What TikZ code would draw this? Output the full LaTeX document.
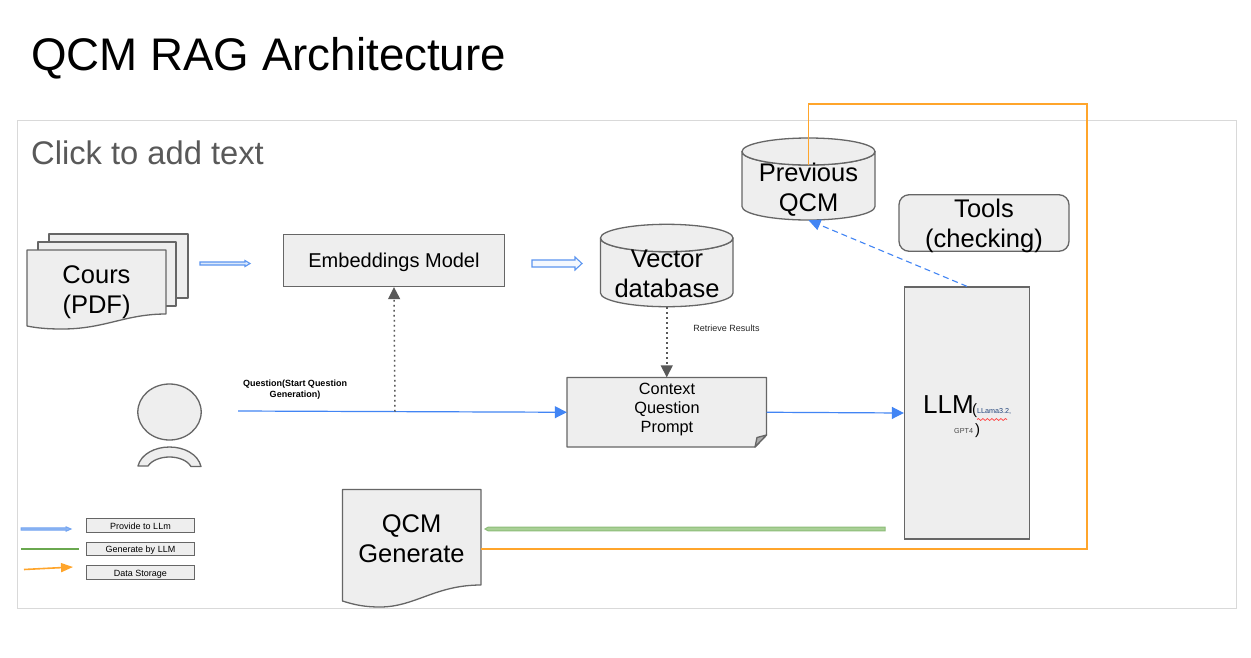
\documentclass[tikz,border=0pt]{standalone}
\usepackage{fontspec}
\setmainfont{Liberation Sans}
\usetikzlibrary{arrows.meta,decorations.pathmorphing}
\definecolor{shapefill}{HTML}{EEEEEE}
\definecolor{shapeline}{HTML}{666666}
\definecolor{frameline}{HTML}{D9D9D9}
\definecolor{flowblue}{HTML}{4285F4}
\definecolor{dblblue}{HTML}{5B95F0}
\definecolor{paleblue}{HTML}{DCE9FB}
\definecolor{legblue}{HTML}{8FB7F2}
\definecolor{dblgreen}{HTML}{6AA84F}
\definecolor{edgegreen}{HTML}{8DBD78}
\definecolor{lightgreen}{HTML}{A9D096}
\definecolor{storeorange}{HTML}{FFA52B}
\definecolor{grayarrow}{HTML}{595959}
\definecolor{hinttext}{HTML}{595959}
\newcommand{\fsz}[1]{\fontsize{#1}{#1}\selectfont}
\tikzset{
  shapepath/.style={draw=shapeline,fill=shapefill,line width=1.3pt,line join=round},
  bigtext/.style={align=center,inner sep=0pt,font=\fontsize{25.5}{30}\selectfont},
  boxnode/.style={draw=shapeline,fill=shapefill,line width=1.3pt,inner sep=0pt},
  legendbox/.style={boxnode,minimum width=108pt,minimum height=13.5pt,text height=8pt,text depth=1pt,font=\fsz{9}},
  flow/.style={draw=flowblue,line width=1.2pt,-{Triangle[length=12pt,width=12pt]}},
  hollow/.style={draw=dblblue,line width=1.1pt,fill=paleblue,line join=miter},
  dots/.style={draw=grayarrow,line width=1.5pt,dash pattern=on 1.6pt off 3.4pt,-{Triangle[length=12pt,width=12pt,sep=0pt]}},
  store/.style={draw=storeorange,line width=1.6pt},
}
\begin{document}
\begin{tikzpicture}[x=1pt,y=-1pt]
\useasboundingbox (0,0) rectangle (1251,657);
\fill[white] (0,0) rectangle (1251,657);
% frame
\node[draw=frameline,line width=1pt,minimum width=1219pt,minimum height=488pt,inner sep=0pt] (frame) at (627,364) {};
\node[anchor=base west,inner sep=0pt,font=\fsz{45.7}] (title) at (31,70) {QCM RAG Architecture};
\node[anchor=base west,inner sep=0pt,text=hinttext,font=\fsz{32.7}] (hint) at (31,164) {Click to add text};

% stacked documents
\draw[shapepath] (49,234) rectangle (188,298);
\draw[shapepath] (38,242) rectangle (176,306);
\draw[shapepath] (27,250) -- (166,250) -- (166,314) .. controls (125,314) and (105,329) .. (62,329) .. controls (47,329) and (37,328) .. (27,326) -- cycle;
\node[bigtext] (cours) at (96.5,292) {Cours\\(PDF)};
\coordinate (coursout) at (200,263.5);
\coordinate (embout) at (532,263.5);

% embeddings
\node[boxnode,minimum width=221pt,minimum height=52pt,text height=18pt,text depth=4pt,font=\fsz{20}] (emb) at (394,260.5) {Embeddings Model};

% vector database
\draw[shapepath] (600.5,238) -- (600.5,293) arc[start angle=180,end angle=0,x radius=66.25,y radius=13.7] -- (733,238) arc[start angle=0,end angle=180,x radius=66.25,y radius=13.7] -- cycle;
\draw[shapepath] (666.75,238) ellipse[x radius=66.25,y radius=13.7];
\node[inner sep=0pt,minimum width=132.5pt,minimum height=82.5pt] (db) at (666.75,265.7) {};
\node[bigtext] (dbtext) at (667,273.5) {Vector\\database};

% previous QCM
\draw[shapepath] (742,151.5) -- (742,206.5) arc[start angle=180,end angle=0,x radius=66.5,y radius=13.5] -- (875,151.5) arc[start angle=0,end angle=180,x radius=66.5,y radius=13.5] -- cycle;
\draw[shapepath] (808.5,151.5) ellipse[x radius=66.5,y radius=13.5];
\node[inner sep=0pt,minimum width=133pt,minimum height=82pt] (prev) at (808.5,179) {};
\node[bigtext] (prevtext) at (808.5,189.5) {Previous\\QCM};
\coordinate (prevtop) at (808.5,165);

% tools
\node[boxnode,rounded corners=10pt,minimum width=170pt,minimum height=56.5pt] (tools) at (984,223) {};
\node[bigtext] (toolstext) at (984,225.5) {Tools\\(checking)};

% LLM
\node[boxnode,minimum width=125pt,minimum height=252pt] (llm) at (967,413) {};
\node[anchor=base west,inner sep=0pt,font=\fsz{26}] (llmtext) at (923,413) {LLM};
\node[anchor=base west,inner sep=0pt,font=\fsz{15}] (po) at (972,414) {(};
\node[anchor=base west,inner sep=0pt,text=flowblue!50!black,font=\fsz{7.2}] (lama) at (977,413) {LLama3.2,};
\node[anchor=base west,inner sep=0pt,text=hinttext!80!black,font=\fsz{7.2}] (gpt) at (954,433) {GPT4};
\node[anchor=base west,inner sep=0pt,font=\fsz{15}] (pc) at (975,434) {)};
\coordinate (sqa) at (977,419.5);
\coordinate (sqb) at (1007,419.5);
\draw[red!75!white,line width=.7pt,decorate,decoration={snake,amplitude=1pt,segment length=4.5pt}] (sqa) -- (sqb);

% context note
\draw[shapepath] (567,377.5) -- (766.5,377.5) -- (766.5,435) -- (755,447) -- (567,447) -- cycle;
\draw[shapepath,fill=shapeline!55!white] (766.5,435) -- (757,437.5) -- (755,447) -- cycle;
\node[inner sep=0pt,minimum width=199.5pt,minimum height=69.5pt] (ctx) at (666.75,412.25) {};
\node[align=center,inner sep=0pt,font=\fontsize{16.3}{19}\selectfont] (ctxtext) at (667,409.5) {Context\\Question\\Prompt};
\node[inner sep=0pt,text=black!85,font=\fsz{9}] (retr) at (726.5,328) {Retrieve Results};

% person
\draw[shapepath] (169.5,412) ellipse[x radius=31.7,y radius=28];
\draw[shapepath] (138,466) .. controls (141,454) and (155,447) .. (169.5,447) .. controls (184,447) and (198,454) .. (201,466.5) -- (191,466.5) .. controls (187,460) and (178,457) .. (169.5,457) .. controls (161,457) and (152,460) .. (148,466) -- cycle;
\coordinate (userout) at (238,411);
\node[align=center,inner sep=0pt,font=\bfseries\fontsize{9}{11}\selectfont] (qlabel) at (295,389.5) {Question(Start Question\\Generation)};
\coordinate (branch) at (395,411.5);

% QCM generate
\draw[shapepath] (342.5,489.5) -- (481,489.5) -- (481,585) .. controls (435,585) and (415,607) .. (380,607) .. controls (365,607) and (355,605) .. (342.5,601) -- cycle;
\node[inner sep=0pt,minimum width=138.5pt,minimum height=95.5pt] (gen) at (411.75,537.25) {};
\node[bigtext] (gentext) at (411.5,538.5) {QCM\\Generate};
\coordinate (genout) at (481,549);
\coordinate (corner1) at (1087,549);
\coordinate (corner2) at (1087,104);
\coordinate (corner3) at (808.5,104);
\coordinate (llmgreen) at (885,529);

% legend
\node[legendbox] (leg1) at (140.5,525.5) {Provide to LLm};
\node[legendbox] (leg2) at (140.5,549) {Generate by LLM};
\node[legendbox] (leg3) at (140.5,572.5) {Data Storage};
\coordinate (la1) at (21,529);
\coordinate (la2) at (21,549);
\coordinate (lb2) at (79,549);
\coordinate (la3) at (24,569.5);
\coordinate (lb3) at (73,567);

% connectors
\draw[hollow] (coursout) ++(0,-1.5) -- ++(45,0) -- ++(0,-1.5) -- ++(5,3) -- ++(-5,3) -- ++(0,-1.5) -- ++(-45,0) -- cycle;
\draw[hollow,fill=white!70!paleblue] (embout) ++(0,-3.5) -- ++(43,0) -- ++(0,-3) -- ++(7,6.5) -- ++(-7,6.5) -- ++(0,-3) -- ++(-43,0) -- cycle;
\draw[flow] (userout) -- (ctx.west);
\draw[flow] (ctx.east) -- (llm.west);
\draw[dots] (branch) -- (emb.south);
\draw[dots] (db.south) -- (ctx.north);
\draw[draw=flowblue,line width=1.1pt,dash pattern=on 6pt off 4pt,-{Triangle[length=12pt,width=11pt]}] (llm.north) -- (prev.south);
\draw[draw=edgegreen,line width=1pt,fill=lightgreen,line join=miter] (llmgreen) ++(0,-1.8) -- ++(-397,0) -- ++(-3,1.8) -- ++(3,1.8) -- ++(397,0) -- cycle;
\draw[store] (genout) -- (corner1) -- (corner2) -- (corner3) -- (prevtop);
\draw[draw=dblblue!85!white,line width=1pt,fill=legblue,line join=miter] (la1) ++(0,-1.2) -- ++(45,0) -- ++(0,-1) -- ++(5,2.2) -- ++(-5,2.2) -- ++(0,-1) -- ++(-45,0) -- cycle;
\draw[draw=dblgreen,line width=1.5pt] (la2) -- (lb2);
\draw[store,-{Triangle[length=12pt,width=9pt]}] (la3) -- (lb3);
\end{tikzpicture}
\end{document}
